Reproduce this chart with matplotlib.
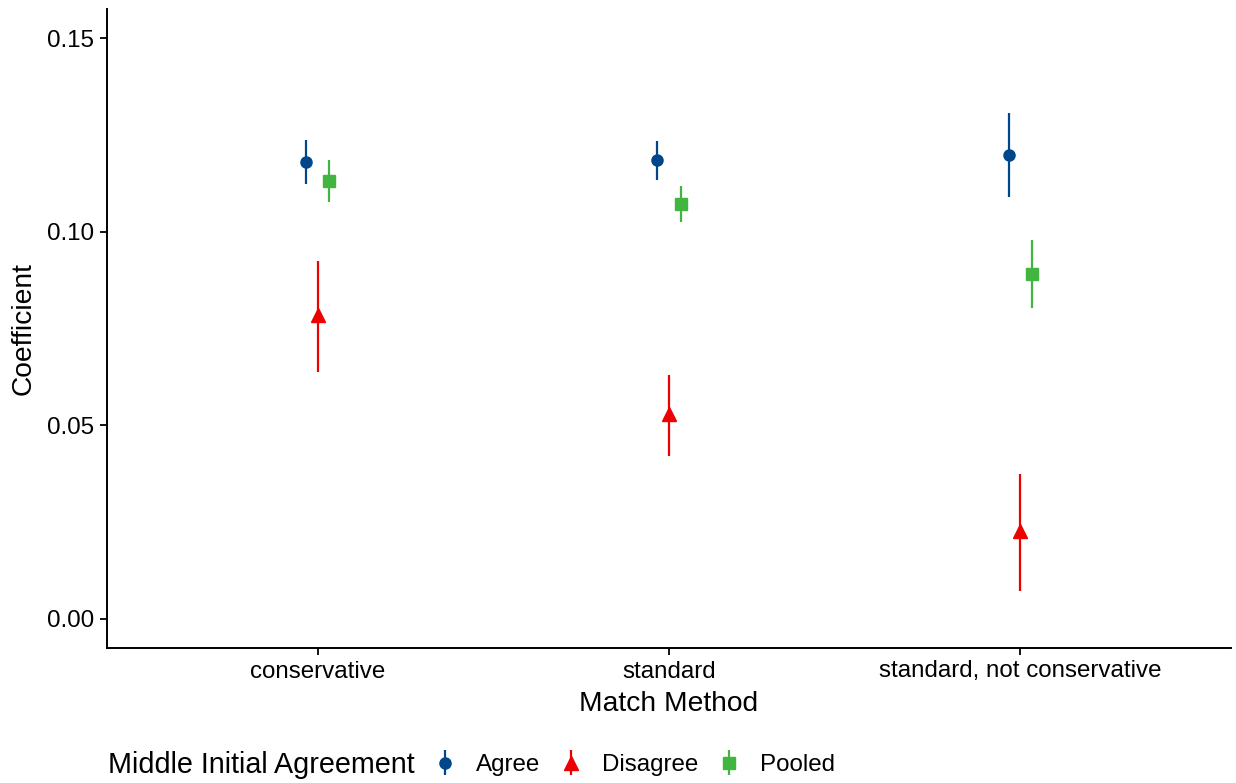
import numpy as np
from matplotlib import pyplot as plt

plt.rcParams['font.family'] = ['Liberation Sans', 'DejaVu Sans']

methods = ["conservative", "standard", "standard, not conservative"]
groups = ["Agree", "Disagree", "Pooled"]

agree = np.array([0.1180, 0.1186, 0.1198])
agree_lo = np.array([0.1124, 0.1134, 0.1090])
agree_hi = np.array([0.1237, 0.1235, 0.1307])

disagree = np.array([0.0784, 0.0528, 0.0227])
disagree_lo = np.array([0.0637, 0.0420, 0.0072])
disagree_hi = np.array([0.0925, 0.0629, 0.0374])

pooled = np.array([0.1131, 0.1072, 0.0892])
pooled_lo = np.array([0.1077, 0.1026, 0.0804])
pooled_hi = np.array([0.1186, 0.1119, 0.0979])

colors = ["#00468B", "#ED0000", "#42B540"]
markers = ["o", "^", "s"]
msizes = [8, 10.5, 8]

fig = plt.figure(figsize=(12.36, 7.83), dpi=100)
ax = fig.add_axes([107/1236, 1-648/783, (1231-107)/1236, (648-9)/783])

x = np.arange(1, len(methods) + 1)
offsets = [-0.1/3, 0, 0.1/3]  # dodge
series = [(agree, agree_lo, agree_hi), (disagree, disagree_lo, disagree_hi), (pooled, pooled_lo, pooled_hi)]

handles = []
for i, (est, lo, hi) in enumerate(series):
    h = ax.errorbar(x + offsets[i], est, yerr=[est - lo, hi - est],
                    fmt=markers[i], color=colors[i], ms=msizes[i],
                    elinewidth=1.6, capsize=0, label=groups[i])
    handles.append(h)

ax.set_xlim(0.4, 3.6)
ax.set_ylim(-0.0075, 0.1575)
ax.set_xticks(x)
ax.set_xticklabels(methods)
ax.set_yticks([0.00, 0.05, 0.10, 0.15])
ax.set_yticklabels(["0.00", "0.05", "0.10", "0.15"])
ax.tick_params(labelsize=17.4, length=5, width=1.3, color="black", labelcolor="black", pad=4)

for s in ["top", "right"]:
    ax.spines[s].set_visible(False)
for s in ["left", "bottom"]:
    ax.spines[s].set_linewidth(1.4)

ax.set_xlabel("Match Method", fontsize=20.3, labelpad=6)
ax.set_ylabel("Coefficient", fontsize=20.3, labelpad=8)

fig.text(108/1236, 1-765/783, "Middle Initial Agreement", fontsize=20.7, va="center", ha="left")
fig.legend(handles=handles, labels=groups, loc="center left",
           bbox_to_anchor=(411/1236, 1-765/783), ncol=3, frameon=False,
           fontsize=17.4, handlelength=1.0, handletextpad=0.8, columnspacing=0.75)

plt.savefig("out.png", dpi=100)
